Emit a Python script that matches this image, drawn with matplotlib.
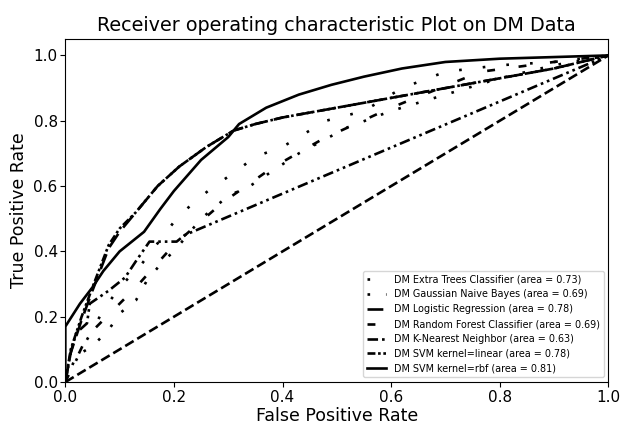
import numpy as np
import matplotlib
matplotlib.use('Agg')
from matplotlib import pyplot as plt

# curves (fpr, tpr)
et_fpr = [0.0, 0.03, 0.05, 0.07, 0.10, 0.14, 0.20, 0.23, 0.27, 0.31, 0.35, 0.40, 0.44, 0.48, 0.55, 0.62, 0.70, 0.80, 0.90, 1.0]
et_tpr = [0.0, 0.10, 0.16, 0.22, 0.29, 0.36, 0.49, 0.54, 0.595, 0.64, 0.69, 0.72, 0.76, 0.80, 0.83, 0.90, 0.95, 0.97, 0.98, 1.0]

gnb_fpr = [0.0, 0.02, 0.05, 0.08, 0.10, 0.13, 0.15, 0.18, 0.20, 0.25, 0.30, 0.34, 0.43, 0.52, 0.60, 0.70, 0.80, 0.90, 1.0]
gnb_tpr = [0.0, 0.08, 0.11, 0.16, 0.21, 0.25, 0.31, 0.37, 0.40, 0.50, 0.57, 0.60, 0.70, 0.78, 0.83, 0.88, 0.93, 0.97, 1.0]

lr_fpr = [0.0, 0.01, 0.03, 0.05, 0.08, 0.10, 0.13, 0.17, 0.21, 0.26, 0.31, 0.35, 0.40, 0.50, 0.60, 0.70, 0.80, 0.90, 1.0]
lr_tpr = [0.0, 0.09, 0.19, 0.28, 0.41, 0.46, 0.52, 0.60, 0.66, 0.72, 0.77, 0.79, 0.81, 0.84, 0.87, 0.90, 0.93, 0.96, 1.0]

rf_fpr = [0.0, 0.04, 0.13, 0.20, 0.29, 0.38, 0.475, 0.60, 0.765, 0.90, 1.0]
rf_tpr = [0.0, 0.14, 0.29, 0.42, 0.55, 0.655, 0.745, 0.84, 0.95, 0.98, 1.0]

knn_fpr = [0.0, 0.01, 0.02, 0.04, 0.045, 0.08, 0.11, 0.13, 0.155, 0.205, 0.22, 1.0]
knn_tpr = [0.0, 0.09, 0.15, 0.18, 0.24, 0.28, 0.32, 0.37, 0.43, 0.43, 0.45, 1.0]

svl_fpr = [0.0, 0.01, 0.03, 0.05, 0.08, 0.10, 0.13, 0.17, 0.21, 0.26, 0.31, 0.35, 0.40, 0.50, 0.60, 0.70, 0.80, 0.90, 1.0]
svl_tpr = [0.0, 0.10, 0.20, 0.29, 0.42, 0.47, 0.52, 0.60, 0.66, 0.72, 0.77, 0.79, 0.81, 0.84, 0.87, 0.90, 0.93, 0.96, 1.0]

rbf_fpr = [0.0, 0.0, 0.027, 0.05, 0.07, 0.10, 0.145, 0.175, 0.20, 0.25, 0.30, 0.32, 0.37, 0.43, 0.49, 0.55, 0.62, 0.70, 0.80, 0.90, 1.0]
rbf_tpr = [0.0, 0.17, 0.24, 0.29, 0.34, 0.40, 0.46, 0.53, 0.585, 0.68, 0.75, 0.79, 0.84, 0.88, 0.91, 0.935, 0.96, 0.98, 0.99, 0.995, 1.0]

labels = ['DM Extra Trees Classifier', 'DM Gaussian Naive Bayes', 'DM Logistic Regression',
          'DM Random Forest Classifier', 'DM K-Nearest Neighbor', 'DM SVM kernel=linear',
          'DM SVM kernel=rbf']
areas = [0.73, 0.69, 0.78, 0.69, 0.63, 0.78, 0.81]

curves = [(et_fpr, et_tpr), (gnb_fpr, gnb_tpr), (lr_fpr, lr_tpr), (rf_fpr, rf_tpr),
          (knn_fpr, knn_tpr), (svl_fpr, svl_tpr), (rbf_fpr, rbf_tpr)]
styles = [(0, (1, 8)), (0, (1, 6)), (0, (6, 3)), (0, (3, 9)), (0, (4, 1.5, 1, 1.5, 1, 1.5)),
          (0, (3, 1, 1, 1, 1, 1)), '-']

fig = plt.figure(figsize=(6.22, 4.25), dpi=100)
ax = fig.add_axes([0.105, 0.101, 0.873, 0.807])

for (x, y), ls, lab, a in zip(curves, styles, labels, areas):
    ax.plot(x, y, color='k', linestyle=ls, linewidth=1.9, label='%s (area = %0.2f)' % (lab, a))

# chance line
ax.plot([0, 1], [0, 1], color='k', linestyle='--', linewidth=1.9)

ax.set_xlim(0.0, 1.0)
ax.set_ylim(0.0, 1.05)
ax.set_xlabel('False Positive Rate', fontsize=12.5, labelpad=2)
ax.set_ylabel('True Positive Rate', fontsize=12.5, labelpad=4)
ax.set_title('Receiver operating characteristic Plot on DM Data', fontsize=13.8)
ax.tick_params(labelsize=11, pad=2)
ax.legend(loc='lower right', fontsize=6.9)

plt.savefig('out.png', dpi=100)
